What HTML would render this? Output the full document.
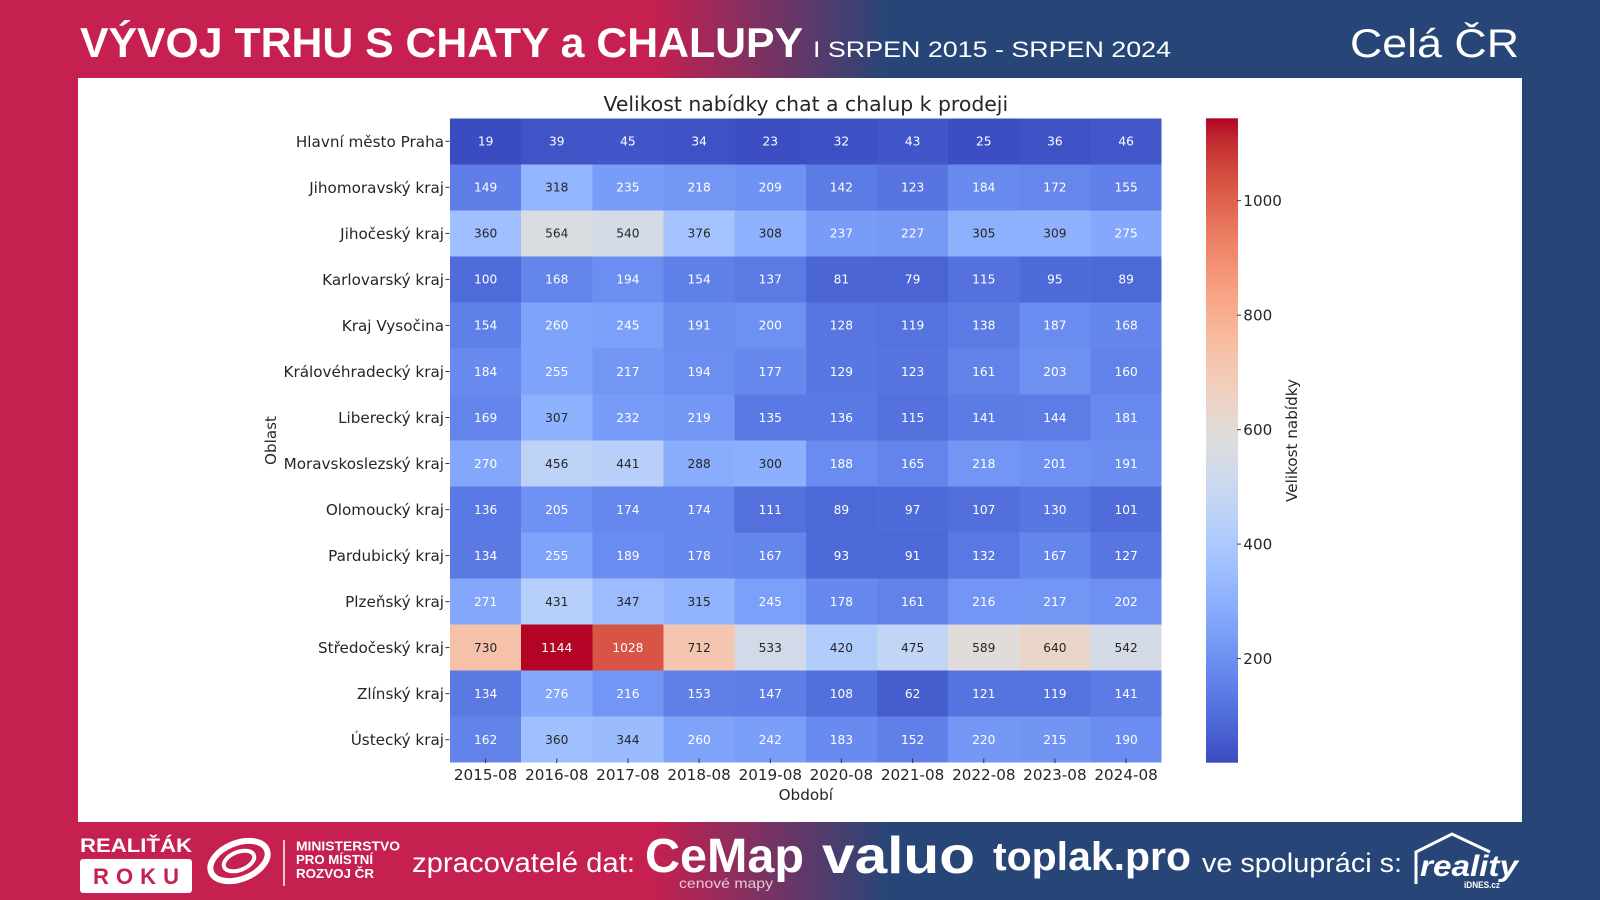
<!DOCTYPE html>
<html><head><meta charset="utf-8">
<style>
html,body{margin:0;padding:0;width:1600px;height:900px;overflow:hidden;}
body{background:linear-gradient(to right,#C52050 0px,#C52050 653px,#274677 888px,#274677 1600px);}
svg{position:absolute;left:0;top:0;}
</style></head>
<body>
<svg width="1600" height="900" viewBox="0 0 1600 900" xmlns="http://www.w3.org/2000/svg">
<defs>
<linearGradient id="cb" x1="0" y1="0" x2="0" y2="1">
<stop offset="0" stop-color="rgb(180,4,38)"/>
<stop offset="0.03125" stop-color="rgb(192,40,47)"/>
<stop offset="0.0625" stop-color="rgb(203,62,56)"/>
<stop offset="0.09375" stop-color="rgb(213,80,66)"/>
<stop offset="0.125" stop-color="rgb(222,96,77)"/>
<stop offset="0.15625" stop-color="rgb(229,112,89)"/>
<stop offset="0.1875" stop-color="rgb(236,127,99)"/>
<stop offset="0.21875" stop-color="rgb(241,141,111)"/>
<stop offset="0.25" stop-color="rgb(244,154,123)"/>
<stop offset="0.28125" stop-color="rgb(247,166,135)"/>
<stop offset="0.3125" stop-color="rgb(247,177,148)"/>
<stop offset="0.34375" stop-color="rgb(247,187,160)"/>
<stop offset="0.375" stop-color="rgb(245,196,172)"/>
<stop offset="0.40625" stop-color="rgb(241,204,184)"/>
<stop offset="0.4375" stop-color="rgb(236,211,197)"/>
<stop offset="0.46875" stop-color="rgb(229,216,209)"/>
<stop offset="0.5" stop-color="rgb(221,221,221)"/>
<stop offset="0.53125" stop-color="rgb(213,219,230)"/>
<stop offset="0.5625" stop-color="rgb(204,217,238)"/>
<stop offset="0.59375" stop-color="rgb(194,213,244)"/>
<stop offset="0.625" stop-color="rgb(184,208,249)"/>
<stop offset="0.65625" stop-color="rgb(174,201,253)"/>
<stop offset="0.6875" stop-color="rgb(163,194,255)"/>
<stop offset="0.71875" stop-color="rgb(152,185,255)"/>
<stop offset="0.75" stop-color="rgb(141,176,254)"/>
<stop offset="0.78125" stop-color="rgb(130,165,251)"/>
<stop offset="0.8125" stop-color="rgb(119,154,247)"/>
<stop offset="0.84375" stop-color="rgb(108,142,241)"/>
<stop offset="0.875" stop-color="rgb(98,130,234)"/>
<stop offset="0.90625" stop-color="rgb(87,117,225)"/>
<stop offset="0.9375" stop-color="rgb(77,104,215)"/>
<stop offset="0.96875" stop-color="rgb(68,90,204)"/>
<stop offset="1" stop-color="rgb(59,76,192)"/>
</linearGradient>
</defs>

<!-- Header -->
<g font-family="Liberation Sans, Arial, sans-serif" fill="#ffffff">
<text x="80" y="57" font-size="42" font-weight="bold" textLength="723" lengthAdjust="spacingAndGlyphs">VÝVOJ TRHU S CHATY a CHALUPY</text>
<text x="813" y="57" font-size="22" textLength="358" lengthAdjust="spacingAndGlyphs">I SRPEN 2015 - SRPEN 2024</text>
<text x="1350" y="57" font-size="40" textLength="169" lengthAdjust="spacingAndGlyphs">Celá ČR</text>
</g>

<!-- White panel -->
<rect x="78" y="78" width="1444" height="744" fill="#ffffff"/>

<!-- Chart -->
<g font-family="DejaVu Sans, sans-serif">
<text x="805.8" y="111" font-size="20.4" text-anchor="middle" fill="#262626">Velikost nabídky chat a chalup k prodeji</text>

<g transform="translate(450,118.3) scale(71.17,46.03)" shape-rendering="crispEdges">
<rect x="0" y="0" width="1.01" height="1.02" fill="rgb(59,76,192)"/>
<rect x="1" y="0" width="1.01" height="1.02" fill="rgb(64,84,199)"/>
<rect x="2" y="0" width="1.01" height="1.02" fill="rgb(66,86,201)"/>
<rect x="3" y="0" width="1.01" height="1.02" fill="rgb(63,82,197)"/>
<rect x="4" y="0" width="1.01" height="1.02" fill="rgb(60,78,193)"/>
<rect x="5" y="0" width="1.01" height="1.02" fill="rgb(62,81,196)"/>
<rect x="6" y="0" width="1.01" height="1.02" fill="rgb(65,86,200)"/>
<rect x="7" y="0" width="1.01" height="1.02" fill="rgb(61,78,194)"/>
<rect x="8" y="0" width="1.01" height="1.02" fill="rgb(63,83,198)"/>
<rect x="9" y="0" width="1" height="1.02" fill="rgb(66,87,201)"/>
<rect x="0" y="1" width="1.01" height="1.02" fill="rgb(95,126,231)"/>
<rect x="1" y="1" width="1.01" height="1.02" fill="rgb(147,181,255)"/>
<rect x="2" y="1" width="1.01" height="1.02" fill="rgb(121,156,248)"/>
<rect x="3" y="1" width="1.01" height="1.02" fill="rgb(115,150,245)"/>
<rect x="4" y="1" width="1.01" height="1.02" fill="rgb(112,147,243)"/>
<rect x="5" y="1" width="1.01" height="1.02" fill="rgb(92,123,229)"/>
<rect x="6" y="1" width="1.01" height="1.02" fill="rgb(87,116,225)"/>
<rect x="7" y="1" width="1.01" height="1.02" fill="rgb(105,138,239)"/>
<rect x="8" y="1" width="1.01" height="1.02" fill="rgb(102,134,236)"/>
<rect x="9" y="1" width="1" height="1.02" fill="rgb(97,128,233)"/>
<rect x="0" y="2" width="1.01" height="1.02" fill="rgb(160,191,255)"/>
<rect x="1" y="2" width="1.01" height="1.02" fill="rgb(217,220,225)"/>
<rect x="2" y="2" width="1.01" height="1.02" fill="rgb(211,219,231)"/>
<rect x="3" y="2" width="1.01" height="1.02" fill="rgb(165,195,255)"/>
<rect x="4" y="2" width="1.01" height="1.02" fill="rgb(143,178,254)"/>
<rect x="5" y="2" width="1.01" height="1.02" fill="rgb(121,156,248)"/>
<rect x="6" y="2" width="1.01" height="1.02" fill="rgb(118,153,246)"/>
<rect x="7" y="2" width="1.01" height="1.02" fill="rgb(142,177,254)"/>
<rect x="8" y="2" width="1.01" height="1.02" fill="rgb(144,178,254)"/>
<rect x="9" y="2" width="1" height="1.02" fill="rgb(133,168,252)"/>
<rect x="0" y="3" width="1.01" height="1.02" fill="rgb(80,108,218)"/>
<rect x="1" y="3" width="1.01" height="1.02" fill="rgb(100,133,236)"/>
<rect x="2" y="3" width="1.01" height="1.02" fill="rgb(108,142,241)"/>
<rect x="3" y="3" width="1.01" height="1.02" fill="rgb(96,128,233)"/>
<rect x="4" y="3" width="1.01" height="1.02" fill="rgb(91,122,228)"/>
<rect x="5" y="3" width="1.01" height="1.02" fill="rgb(75,101,212)"/>
<rect x="6" y="3" width="1.01" height="1.02" fill="rgb(74,100,212)"/>
<rect x="7" y="3" width="1.01" height="1.02" fill="rgb(84,113,222)"/>
<rect x="8" y="3" width="1.01" height="1.02" fill="rgb(79,106,217)"/>
<rect x="9" y="3" width="1" height="1.02" fill="rgb(77,104,215)"/>
<rect x="0" y="4" width="1.01" height="1.02" fill="rgb(96,128,233)"/>
<rect x="1" y="4" width="1.01" height="1.02" fill="rgb(128,163,250)"/>
<rect x="2" y="4" width="1.01" height="1.02" fill="rgb(124,159,249)"/>
<rect x="3" y="4" width="1.01" height="1.02" fill="rgb(107,141,240)"/>
<rect x="4" y="4" width="1.01" height="1.02" fill="rgb(110,144,242)"/>
<rect x="5" y="4" width="1.01" height="1.02" fill="rgb(88,118,226)"/>
<rect x="6" y="4" width="1.01" height="1.02" fill="rgb(85,115,223)"/>
<rect x="7" y="4" width="1.01" height="1.02" fill="rgb(91,122,228)"/>
<rect x="8" y="4" width="1.01" height="1.02" fill="rgb(106,139,239)"/>
<rect x="9" y="4" width="1" height="1.02" fill="rgb(100,133,236)"/>
<rect x="0" y="5" width="1.01" height="1.02" fill="rgb(105,138,239)"/>
<rect x="1" y="5" width="1.01" height="1.02" fill="rgb(127,162,250)"/>
<rect x="2" y="5" width="1.01" height="1.02" fill="rgb(115,150,245)"/>
<rect x="3" y="5" width="1.01" height="1.02" fill="rgb(108,142,241)"/>
<rect x="4" y="5" width="1.01" height="1.02" fill="rgb(103,136,237)"/>
<rect x="5" y="5" width="1.01" height="1.02" fill="rgb(88,119,226)"/>
<rect x="6" y="5" width="1.01" height="1.02" fill="rgb(87,116,225)"/>
<rect x="7" y="5" width="1.01" height="1.02" fill="rgb(98,130,234)"/>
<rect x="8" y="5" width="1.01" height="1.02" fill="rgb(111,145,242)"/>
<rect x="9" y="5" width="1" height="1.02" fill="rgb(98,130,234)"/>
<rect x="0" y="6" width="1.01" height="1.02" fill="rgb(101,133,236)"/>
<rect x="1" y="6" width="1.01" height="1.02" fill="rgb(143,178,254)"/>
<rect x="2" y="6" width="1.01" height="1.02" fill="rgb(120,155,247)"/>
<rect x="3" y="6" width="1.01" height="1.02" fill="rgb(116,150,245)"/>
<rect x="4" y="6" width="1.01" height="1.02" fill="rgb(90,121,228)"/>
<rect x="5" y="6" width="1.01" height="1.02" fill="rgb(91,121,228)"/>
<rect x="6" y="6" width="1.01" height="1.02" fill="rgb(84,113,222)"/>
<rect x="7" y="6" width="1.01" height="1.02" fill="rgb(92,123,229)"/>
<rect x="8" y="6" width="1.01" height="1.02" fill="rgb(93,124,230)"/>
<rect x="9" y="6" width="1" height="1.02" fill="rgb(104,137,238)"/>
<rect x="0" y="7" width="1.01" height="1.02" fill="rgb(132,167,251)"/>
<rect x="1" y="7" width="1.01" height="1.02" fill="rgb(188,210,247)"/>
<rect x="2" y="7" width="1.01" height="1.02" fill="rgb(184,208,249)"/>
<rect x="3" y="7" width="1.01" height="1.02" fill="rgb(137,172,253)"/>
<rect x="4" y="7" width="1.01" height="1.02" fill="rgb(141,176,254)"/>
<rect x="5" y="7" width="1.01" height="1.02" fill="rgb(106,140,240)"/>
<rect x="6" y="7" width="1.01" height="1.02" fill="rgb(100,132,235)"/>
<rect x="7" y="7" width="1.01" height="1.02" fill="rgb(115,150,245)"/>
<rect x="8" y="7" width="1.01" height="1.02" fill="rgb(110,144,242)"/>
<rect x="9" y="7" width="1" height="1.02" fill="rgb(107,141,240)"/>
<rect x="0" y="8" width="1.01" height="1.02" fill="rgb(91,121,228)"/>
<rect x="1" y="8" width="1.01" height="1.02" fill="rgb(111,145,243)"/>
<rect x="2" y="8" width="1.01" height="1.02" fill="rgb(102,135,237)"/>
<rect x="3" y="8" width="1.01" height="1.02" fill="rgb(102,135,237)"/>
<rect x="4" y="8" width="1.01" height="1.02" fill="rgb(83,112,221)"/>
<rect x="5" y="8" width="1.01" height="1.02" fill="rgb(77,104,215)"/>
<rect x="6" y="8" width="1.01" height="1.02" fill="rgb(79,107,217)"/>
<rect x="7" y="8" width="1.01" height="1.02" fill="rgb(82,111,220)"/>
<rect x="8" y="8" width="1.01" height="1.02" fill="rgb(89,119,226)"/>
<rect x="9" y="8" width="1" height="1.02" fill="rgb(80,108,218)"/>
<rect x="0" y="9" width="1.01" height="1.02" fill="rgb(90,121,227)"/>
<rect x="1" y="9" width="1.01" height="1.02" fill="rgb(127,162,250)"/>
<rect x="2" y="9" width="1.01" height="1.02" fill="rgb(106,140,240)"/>
<rect x="3" y="9" width="1.01" height="1.02" fill="rgb(103,136,238)"/>
<rect x="4" y="9" width="1.01" height="1.02" fill="rgb(100,133,235)"/>
<rect x="5" y="9" width="1.01" height="1.02" fill="rgb(78,105,216)"/>
<rect x="6" y="9" width="1.01" height="1.02" fill="rgb(77,105,215)"/>
<rect x="7" y="9" width="1.01" height="1.02" fill="rgb(89,120,227)"/>
<rect x="8" y="9" width="1.01" height="1.02" fill="rgb(100,133,235)"/>
<rect x="9" y="9" width="1" height="1.02" fill="rgb(88,118,226)"/>
<rect x="0" y="10" width="1.01" height="1.02" fill="rgb(132,167,252)"/>
<rect x="1" y="10" width="1.01" height="1.02" fill="rgb(181,206,250)"/>
<rect x="2" y="10" width="1.01" height="1.02" fill="rgb(156,188,255)"/>
<rect x="3" y="10" width="1.01" height="1.02" fill="rgb(146,180,254)"/>
<rect x="4" y="10" width="1.01" height="1.02" fill="rgb(124,159,249)"/>
<rect x="5" y="10" width="1.01" height="1.02" fill="rgb(103,136,238)"/>
<rect x="6" y="10" width="1.01" height="1.02" fill="rgb(98,130,234)"/>
<rect x="7" y="10" width="1.01" height="1.02" fill="rgb(115,149,245)"/>
<rect x="8" y="10" width="1.01" height="1.02" fill="rgb(115,150,245)"/>
<rect x="9" y="10" width="1" height="1.02" fill="rgb(110,144,242)"/>
<rect x="0" y="11" width="1.01" height="1.02" fill="rgb(245,194,169)"/>
<rect x="1" y="11" width="1.01" height="1.02" fill="rgb(180,4,38)"/>
<rect x="2" y="11" width="1.01" height="1.02" fill="rgb(216,85,69)"/>
<rect x="3" y="11" width="1.01" height="1.02" fill="rgb(244,198,175)"/>
<rect x="4" y="11" width="1.01" height="1.02" fill="rgb(210,218,233)"/>
<rect x="5" y="11" width="1.01" height="1.02" fill="rgb(178,204,251)"/>
<rect x="6" y="11" width="1.01" height="1.02" fill="rgb(194,213,244)"/>
<rect x="7" y="11" width="1.01" height="1.02" fill="rgb(223,220,218)"/>
<rect x="8" y="11" width="1.01" height="1.02" fill="rgb(234,213,201)"/>
<rect x="9" y="11" width="1" height="1.02" fill="rgb(212,219,231)"/>
<rect x="0" y="12" width="1.01" height="1.02" fill="rgb(90,121,227)"/>
<rect x="1" y="12" width="1.01" height="1.02" fill="rgb(133,168,252)"/>
<rect x="2" y="12" width="1.01" height="1.02" fill="rgb(115,149,245)"/>
<rect x="3" y="12" width="1.01" height="1.02" fill="rgb(96,128,232)"/>
<rect x="4" y="12" width="1.01" height="1.02" fill="rgb(94,125,231)"/>
<rect x="5" y="12" width="1.01" height="1.02" fill="rgb(82,111,220)"/>
<rect x="6" y="12" width="1.01" height="1.02" fill="rgb(70,93,206)"/>
<rect x="7" y="12" width="1.01" height="1.02" fill="rgb(86,116,224)"/>
<rect x="8" y="12" width="1.01" height="1.02" fill="rgb(85,115,223)"/>
<rect x="9" y="12" width="1" height="1.02" fill="rgb(92,123,229)"/>
<rect x="0" y="13" width="1.01" height="1" fill="rgb(99,131,234)"/>
<rect x="1" y="13" width="1.01" height="1" fill="rgb(160,191,255)"/>
<rect x="2" y="13" width="1.01" height="1" fill="rgb(155,187,255)"/>
<rect x="3" y="13" width="1.01" height="1" fill="rgb(128,163,250)"/>
<rect x="4" y="13" width="1.01" height="1" fill="rgb(123,158,248)"/>
<rect x="5" y="13" width="1.01" height="1" fill="rgb(105,138,239)"/>
<rect x="6" y="13" width="1.01" height="1" fill="rgb(96,127,232)"/>
<rect x="7" y="13" width="1.01" height="1" fill="rgb(116,151,245)"/>
<rect x="8" y="13" width="1.01" height="1" fill="rgb(114,149,244)"/>
<rect x="9" y="13" width="1" height="1" fill="rgb(107,140,240)"/>
</g>

<g font-size="12.2" text-anchor="middle" fill="#ffffff">
<g transform="translate(0,145.6)"><text x="485.6">19</text><text x="556.8">39</text><text x="627.9">45</text><text x="699.1">34</text><text x="770.3">23</text><text x="841.4">32</text><text x="912.6">43</text><text x="983.8">25</text><text x="1054.9">36</text><text x="1126.1">46</text></g>
<g transform="translate(0,191.6)"><text x="485.6">149</text><text x="556.8" fill="#262626">318</text><text x="627.9">235</text><text x="699.1">218</text><text x="770.3">209</text><text x="841.4">142</text><text x="912.6">123</text><text x="983.8">184</text><text x="1054.9">172</text><text x="1126.1">155</text></g>
<g transform="translate(0,237.7)"><text x="485.6" fill="#262626">360</text><text x="556.8" fill="#262626">564</text><text x="627.9" fill="#262626">540</text><text x="699.1" fill="#262626">376</text><text x="770.3" fill="#262626">308</text><text x="841.4">237</text><text x="912.6">227</text><text x="983.8" fill="#262626">305</text><text x="1054.9" fill="#262626">309</text><text x="1126.1">275</text></g>
<g transform="translate(0,283.7)"><text x="485.6">100</text><text x="556.8">168</text><text x="627.9">194</text><text x="699.1">154</text><text x="770.3">137</text><text x="841.4">81</text><text x="912.6">79</text><text x="983.8">115</text><text x="1054.9">95</text><text x="1126.1">89</text></g>
<g transform="translate(0,329.7)"><text x="485.6">154</text><text x="556.8">260</text><text x="627.9">245</text><text x="699.1">191</text><text x="770.3">200</text><text x="841.4">128</text><text x="912.6">119</text><text x="983.8">138</text><text x="1054.9">187</text><text x="1126.1">168</text></g>
<g transform="translate(0,375.8)"><text x="485.6">184</text><text x="556.8">255</text><text x="627.9">217</text><text x="699.1">194</text><text x="770.3">177</text><text x="841.4">129</text><text x="912.6">123</text><text x="983.8">161</text><text x="1054.9">203</text><text x="1126.1">160</text></g>
<g transform="translate(0,421.8)"><text x="485.6">169</text><text x="556.8" fill="#262626">307</text><text x="627.9">232</text><text x="699.1">219</text><text x="770.3">135</text><text x="841.4">136</text><text x="912.6">115</text><text x="983.8">141</text><text x="1054.9">144</text><text x="1126.1">181</text></g>
<g transform="translate(0,467.8)"><text x="485.6">270</text><text x="556.8" fill="#262626">456</text><text x="627.9" fill="#262626">441</text><text x="699.1" fill="#262626">288</text><text x="770.3" fill="#262626">300</text><text x="841.4">188</text><text x="912.6">165</text><text x="983.8">218</text><text x="1054.9">201</text><text x="1126.1">191</text></g>
<g transform="translate(0,513.9)"><text x="485.6">136</text><text x="556.8">205</text><text x="627.9">174</text><text x="699.1">174</text><text x="770.3">111</text><text x="841.4">89</text><text x="912.6">97</text><text x="983.8">107</text><text x="1054.9">130</text><text x="1126.1">101</text></g>
<g transform="translate(0,559.9)"><text x="485.6">134</text><text x="556.8">255</text><text x="627.9">189</text><text x="699.1">178</text><text x="770.3">167</text><text x="841.4">93</text><text x="912.6">91</text><text x="983.8">132</text><text x="1054.9">167</text><text x="1126.1">127</text></g>
<g transform="translate(0,605.9)"><text x="485.6">271</text><text x="556.8" fill="#262626">431</text><text x="627.9" fill="#262626">347</text><text x="699.1" fill="#262626">315</text><text x="770.3">245</text><text x="841.4">178</text><text x="912.6">161</text><text x="983.8">216</text><text x="1054.9">217</text><text x="1126.1">202</text></g>
<g transform="translate(0,651.9)"><text x="485.6" fill="#262626">730</text><text x="556.8">1144</text><text x="627.9">1028</text><text x="699.1" fill="#262626">712</text><text x="770.3" fill="#262626">533</text><text x="841.4" fill="#262626">420</text><text x="912.6" fill="#262626">475</text><text x="983.8" fill="#262626">589</text><text x="1054.9" fill="#262626">640</text><text x="1126.1" fill="#262626">542</text></g>
<g transform="translate(0,698.0)"><text x="485.6">134</text><text x="556.8">276</text><text x="627.9">216</text><text x="699.1">153</text><text x="770.3">147</text><text x="841.4">108</text><text x="912.6">62</text><text x="983.8">121</text><text x="1054.9">119</text><text x="1126.1">141</text></g>
<g transform="translate(0,744.0)"><text x="485.6">162</text><text x="556.8" fill="#262626">360</text><text x="627.9" fill="#262626">344</text><text x="699.1">260</text><text x="770.3">242</text><text x="841.4">183</text><text x="912.6">152</text><text x="983.8">220</text><text x="1054.9">215</text><text x="1126.1">190</text></g>
</g>

<g font-size="15.2" text-anchor="end" fill="#262626">
<text x="444" y="146.8">Hlavní město Praha</text>
<text x="444" y="192.8">Jihomoravský kraj</text>
<text x="444" y="238.9">Jihočeský kraj</text>
<text x="444" y="284.9">Karlovarský kraj</text>
<text x="444" y="330.9">Kraj Vysočina</text>
<text x="444" y="377.0">Královéhradecký kraj</text>
<text x="444" y="423.0">Liberecký kraj</text>
<text x="444" y="469.0">Moravskoslezský kraj</text>
<text x="444" y="515.1">Olomoucký kraj</text>
<text x="444" y="561.1">Pardubický kraj</text>
<text x="444" y="607.1">Plzeňský kraj</text>
<text x="444" y="653.1">Středočeský kraj</text>
<text x="444" y="699.2">Zlínský kraj</text>
<text x="444" y="745.2">Ústecký kraj</text>
</g>
<g stroke="#333" stroke-width="1">
<line x1="445.5" y1="141.3" x2="449.5" y2="141.3"/>
<line x1="445.5" y1="187.3" x2="449.5" y2="187.3"/>
<line x1="445.5" y1="233.4" x2="449.5" y2="233.4"/>
<line x1="445.5" y1="279.4" x2="449.5" y2="279.4"/>
<line x1="445.5" y1="325.4" x2="449.5" y2="325.4"/>
<line x1="445.5" y1="371.5" x2="449.5" y2="371.5"/>
<line x1="445.5" y1="417.5" x2="449.5" y2="417.5"/>
<line x1="445.5" y1="463.5" x2="449.5" y2="463.5"/>
<line x1="445.5" y1="509.6" x2="449.5" y2="509.6"/>
<line x1="445.5" y1="555.6" x2="449.5" y2="555.6"/>
<line x1="445.5" y1="601.6" x2="449.5" y2="601.6"/>
<line x1="445.5" y1="647.6" x2="449.5" y2="647.6"/>
<line x1="445.5" y1="693.7" x2="449.5" y2="693.7"/>
<line x1="445.5" y1="739.7" x2="449.5" y2="739.7"/>
</g>

<g stroke="#333" stroke-width="1">
<line x1="485.6" y1="758.5" x2="485.6" y2="763"/>
<line x1="556.8" y1="758.5" x2="556.8" y2="763"/>
<line x1="627.9" y1="758.5" x2="627.9" y2="763"/>
<line x1="699.1" y1="758.5" x2="699.1" y2="763"/>
<line x1="770.3" y1="758.5" x2="770.3" y2="763"/>
<line x1="841.4" y1="758.5" x2="841.4" y2="763"/>
<line x1="912.6" y1="758.5" x2="912.6" y2="763"/>
<line x1="983.8" y1="758.5" x2="983.8" y2="763"/>
<line x1="1054.9" y1="758.5" x2="1054.9" y2="763"/>
<line x1="1126.1" y1="758.5" x2="1126.1" y2="763"/>
</g>
<g font-size="15.2" text-anchor="middle" fill="#262626">
<text x="485.6" y="780">2015-08</text>
<text x="556.8" y="780">2016-08</text>
<text x="627.9" y="780">2017-08</text>
<text x="699.1" y="780">2018-08</text>
<text x="770.3" y="780">2019-08</text>
<text x="841.4" y="780">2020-08</text>
<text x="912.6" y="780">2021-08</text>
<text x="983.8" y="780">2022-08</text>
<text x="1054.9" y="780">2023-08</text>
<text x="1126.1" y="780">2024-08</text>
<text x="805.8" y="800">Období</text>
<text transform="translate(276,440.5) rotate(-90)">Oblast</text>
<text transform="translate(1297,440.5) rotate(-90)">Velikost nabídky</text>
</g>

<rect x="1206" y="118.3" width="32" height="644.4" fill="url(#cb)"/>
<g stroke="#333" stroke-width="1">
<line x1="1237" y1="200.7" x2="1241" y2="200.7"/>
<line x1="1237" y1="315.2" x2="1241" y2="315.2"/>
<line x1="1237" y1="429.7" x2="1241" y2="429.7"/>
<line x1="1237" y1="544.1" x2="1241" y2="544.1"/>
<line x1="1237" y1="658.6" x2="1241" y2="658.6"/>
</g>
<g font-size="15.2" fill="#262626">
<text x="1243.3" y="206.1">1000</text>
<text x="1243.3" y="320.6">800</text>
<text x="1243.3" y="435.1">600</text>
<text x="1243.3" y="549.5">400</text>
<text x="1243.3" y="664.0">200</text>
</g>
</g>

<!-- Footer -->
<g font-family="Liberation Sans, Arial, sans-serif" fill="#ffffff">
<text x="80" y="852" font-size="19" font-weight="bold" textLength="112" lengthAdjust="spacingAndGlyphs">REALIŤÁK</text>
<rect x="80" y="859" width="112" height="34" rx="3" fill="#ffffff"/>
<text x="93" y="884" font-size="22" font-weight="bold" fill="#C52050" textLength="86" lengthAdjust="spacing">ROKU</text>
<g fill="none" stroke="#ffffff">
<ellipse cx="239" cy="861" rx="30" ry="18" stroke-width="6" transform="rotate(-22 239 861)"/>
<ellipse cx="239" cy="861" rx="16" ry="9" stroke-width="4" transform="rotate(-22 239 861)"/>
</g>
<line x1="284" y1="840" x2="284" y2="886" stroke="#ffffff" stroke-width="1.5"/>
<text x="296" y="850.5" font-size="12.5" font-weight="bold" textLength="104" lengthAdjust="spacingAndGlyphs">MINISTERSTVO</text>
<text x="296" y="864" font-size="12.5" font-weight="bold" textLength="77" lengthAdjust="spacingAndGlyphs">PRO MÍSTNÍ</text>
<text x="296" y="878" font-size="12.5" font-weight="bold" textLength="78" lengthAdjust="spacingAndGlyphs">ROZVOJ ČR</text>
<text x="412" y="872" font-size="28" textLength="223" lengthAdjust="spacingAndGlyphs">zpracovatelé dat:</text>
<text x="645" y="872" font-size="48" font-weight="bold" textLength="159" lengthAdjust="spacingAndGlyphs">CeMap</text>
<text x="679" y="888" font-size="14" fill="#e6c9d6" textLength="94" lengthAdjust="spacingAndGlyphs">cenové mapy</text>
<text x="822" y="873" font-size="52" font-weight="bold" textLength="153" lengthAdjust="spacingAndGlyphs">valuo</text>
<text x="993" y="870" font-size="40" font-weight="bold" textLength="198" lengthAdjust="spacingAndGlyphs">toplak.pro</text>
<text x="1202" y="872" font-size="27" textLength="200" lengthAdjust="spacingAndGlyphs">ve spolupráci s:</text>
<path d="M1416 884 L1416 852 L1452 834 L1490 852" fill="none" stroke="#ffffff" stroke-width="3"/>
<text x="1420" y="876" font-size="30" font-weight="bold" font-style="italic" textLength="98" lengthAdjust="spacingAndGlyphs">reality</text>
<text x="1464" y="888" font-size="9" font-weight="bold" textLength="36" lengthAdjust="spacingAndGlyphs">iDNES.cz</text>
</g>
</svg>
</body></html>
